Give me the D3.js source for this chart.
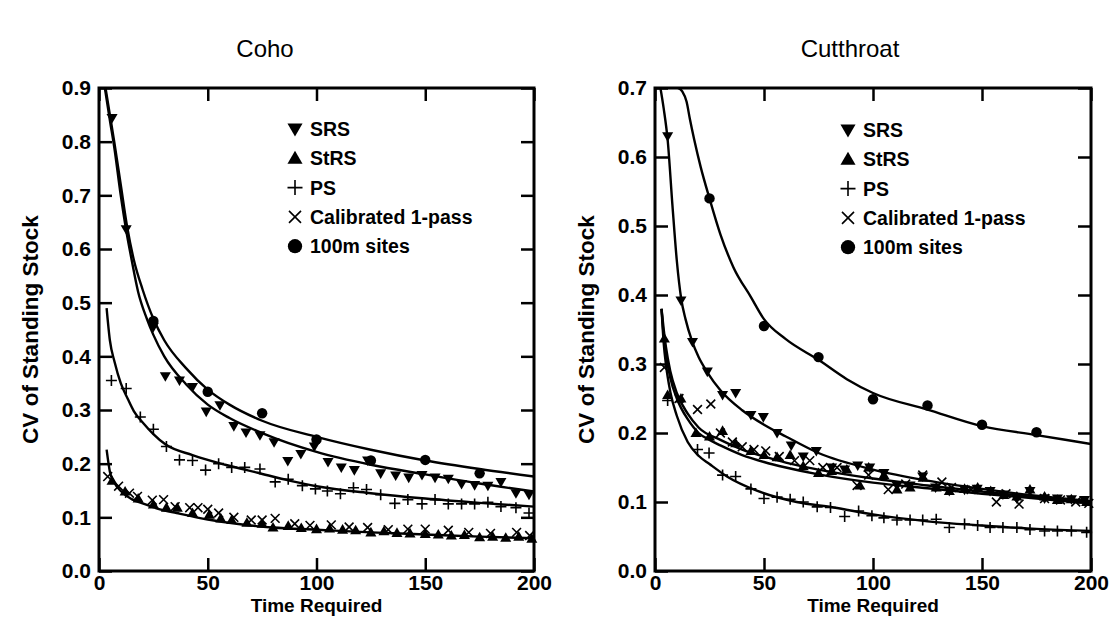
<!DOCTYPE html>
<html>
<head>
<meta charset="utf-8">
<script src="https://cdn.jsdelivr.net/npm/d3@7"></script>
<style>
  body { margin: 0; background: #fff; }
  svg { font-family: 'Liberation Sans', Arial, sans-serif; }
</style>
</head>
<body>
<div id="chart"></div>
<script>
/*
   Data (time required vs CV of standing stock)
 */

const xTicks = [0, 50, 100, 150, 200];
const cohoYTicks = [0, 0.1, 0.2, 0.3, 0.4, 0.5, 0.6, 0.7, 0.8, 0.9];
const cutYTicks = [0, 0.1, 0.2, 0.3, 0.4, 0.5, 0.6, 0.7];
const legendLabels = ['SRS', 'StRS', 'PS', 'Calibrated 1-pass', '100m sites'];

// Coho points
const cohoSrsX = [6, 12.5, 25, 30.5, 37, 43, 49.3, 55.6, 62, 67.6, 74, 80.5, 86.8, 92.8, 99, 105.3, 111.4, 117.4, 123.5, 129.5, 136.4, 142.4, 148.5, 154.5, 160.6, 166.7, 172.7, 178.8, 184.8, 191.7, 197.7];
const cohoSrsY = [0.844, 0.637, 0.455, 0.363, 0.355, 0.343, 0.297, 0.309, 0.27, 0.258, 0.253, 0.24, 0.205, 0.218, 0.232, 0.203, 0.193, 0.188, 0.206, 0.182, 0.178, 0.174, 0.179, 0.174, 0.172, 0.162, 0.16, 0.159, 0.166, 0.145, 0.142];
const cohoStrsX = [6, 12, 18, 25, 31, 36, 43, 50.7, 56, 61, 68, 75, 80, 87, 93, 100, 106, 112, 118, 125, 131, 137, 143, 150, 156, 162, 168, 175, 181, 187, 193, 199];
const cohoStrsY = [0.168, 0.148, 0.135, 0.124, 0.118, 0.118, 0.108, 0.105, 0.098, 0.095, 0.09, 0.088, 0.081, 0.084, 0.08, 0.078, 0.079, 0.077, 0.076, 0.072, 0.074, 0.071, 0.07, 0.069, 0.068, 0.066, 0.067, 0.063, 0.064, 0.062, 0.064, 0.06];
const cohoPsX = [5.7, 12.5, 19, 25, 31, 37, 43, 49, 55, 61, 67, 74, 81, 87, 93.5, 99.5, 105, 111, 117, 123, 129.5, 136, 142, 148.5, 154.5, 160.6, 166.7, 172.7, 178.8, 184.8, 191.7, 197.7];
const cohoPsY = [0.355, 0.34, 0.287, 0.264, 0.232, 0.207, 0.206, 0.188, 0.2, 0.193, 0.193, 0.19, 0.166, 0.171, 0.159, 0.153, 0.149, 0.144, 0.155, 0.152, 0.142, 0.126, 0.133, 0.125, 0.133, 0.125, 0.125, 0.125, 0.128, 0.12, 0.118, 0.108];
const cohoCalX = [4, 9, 14, 17.7, 24.5, 29.7, 35, 41.7, 45.5, 50, 55, 62, 70, 75, 81, 90, 97, 106.8, 115, 123.5, 133, 142, 150, 160.6, 170, 180, 192, 198];
const cohoCalY = [0.176, 0.158, 0.145, 0.139, 0.132, 0.133, 0.12, 0.118, 0.118, 0.115, 0.108, 0.1, 0.095, 0.095, 0.098, 0.088, 0.085, 0.086, 0.082, 0.081, 0.077, 0.078, 0.078, 0.076, 0.072, 0.07, 0.072, 0.066];
const cohoSiteX = [25, 50, 75, 100, 125, 150, 175];
const cohoSiteY = [0.466, 0.334, 0.294, 0.245, 0.206, 0.207, 0.182];

// Coho fitted curves
const cohoSiteFitX = [3, 5, 7, 10, 13, 16, 20, 25, 30, 40, 50, 60, 75, 100, 125, 150, 175, 200];
const cohoSiteFitY = [0.9, 0.85, 0.8, 0.72, 0.64, 0.58, 0.525, 0.47, 0.43, 0.378, 0.338, 0.31, 0.28, 0.25, 0.226, 0.206, 0.19, 0.176];
const cohoSrsFitX = [2.7, 5, 7, 10, 12.5, 15, 18, 22, 25, 30, 40, 50, 60, 75, 100, 125, 150, 175, 200];
const cohoSrsFitY = [0.9, 0.84, 0.79, 0.7, 0.635, 0.58, 0.52, 0.47, 0.44, 0.4, 0.348, 0.31, 0.285, 0.257, 0.222, 0.198, 0.18, 0.163, 0.148];
const cohoPsFitX = [3.5, 5, 7.2, 10, 13.2, 16, 20.7, 25, 30.5, 43, 58, 73, 88, 100, 125, 150, 175, 200];
const cohoPsFitY = [0.49, 0.43, 0.389, 0.35, 0.321, 0.298, 0.274, 0.255, 0.236, 0.216, 0.198, 0.183, 0.168, 0.158, 0.145, 0.135, 0.127, 0.12];
const cohoStrsFitX = [3.5, 5, 7, 10, 15, 20.7, 28, 35.7, 50, 65, 80, 100, 125, 150, 175, 200];
const cohoStrsFitY = [0.226, 0.185, 0.165, 0.149, 0.134, 0.125, 0.115, 0.108, 0.096, 0.087, 0.081, 0.077, 0.072, 0.068, 0.064, 0.061];

// Cutthroat points
const cutSrsX = [5.8, 11.9, 17.2, 24, 31, 37, 44, 49.7, 56, 62.5, 68, 74, 81, 87, 93, 98.5, 105, 111, 117, 122.8, 128.7, 135, 142, 147.8, 153.7, 159.6, 166, 172, 178.7, 184.6, 191, 197];
const cutSrsY = [0.63, 0.392, 0.332, 0.289, 0.255, 0.258, 0.226, 0.223, 0.2, 0.182, 0.166, 0.174, 0.15, 0.147, 0.153, 0.15, 0.142, 0.124, 0.124, 0.137, 0.121, 0.116, 0.118, 0.119, 0.116, 0.111, 0.105, 0.116, 0.105, 0.105, 0.104, 0.103];
const cutStrsX = [4.3, 5.8, 11.9, 18.8, 25, 31, 37, 44, 50, 56, 62, 68, 75, 81, 88, 94, 98, 105, 111, 117, 123, 129, 135, 142, 148, 154, 160, 166, 172, 178.7, 184.6, 191, 198];
const cutStrsY = [0.337, 0.255, 0.25, 0.2, 0.195, 0.203, 0.185, 0.174, 0.168, 0.165, 0.168, 0.152, 0.142, 0.145, 0.147, 0.124, 0.15, 0.139, 0.118, 0.121, 0.135, 0.121, 0.116, 0.119, 0.121, 0.116, 0.11, 0.108, 0.118, 0.108, 0.103, 0.104, 0.1];
const cutPsX = [5.8, 19.5, 24.8, 31, 37, 44, 50, 56, 62, 68, 74.4, 80.5, 87, 93.4, 99.5, 105, 111, 117, 122.8, 129, 135, 142, 148, 153.7, 159.6, 166, 172, 178.7, 184.6, 191, 198];
const cutPsY = [0.247, 0.176, 0.171, 0.139, 0.137, 0.119, 0.105, 0.107, 0.104, 0.1, 0.093, 0.092, 0.079, 0.087, 0.08, 0.077, 0.074, 0.074, 0.074, 0.075, 0.063, 0.068, 0.066, 0.063, 0.063, 0.063, 0.06, 0.058, 0.058, 0.058, 0.056];
const cutCalX = [4.3, 11, 19.5, 25.6, 30, 35.5, 40, 45.4, 50.8, 57, 64, 71, 77, 83.5, 92.7, 98, 107, 115, 122.8, 131.6, 136, 145, 156.6, 161, 167, 178.7, 186, 193, 199];
const cutCalY = [0.295, 0.25, 0.234, 0.242, 0.2, 0.187, 0.18, 0.176, 0.174, 0.166, 0.16, 0.16, 0.15, 0.15, 0.124, 0.139, 0.118, 0.126, 0.139, 0.129, 0.121, 0.118, 0.1, 0.112, 0.097, 0.105, 0.103, 0.1, 0.098];
const cutSiteX = [25, 50, 75, 100, 125, 150, 175];
const cutSiteY = [0.54, 0.355, 0.31, 0.249, 0.24, 0.212, 0.201];

// Cutthroat fitted curves
const cutSiteFitX = [10.5, 12.5, 14.5, 16, 18, 21, 25, 30, 36, 44, 50, 60, 75, 88, 100, 125, 150, 175, 200];
const cutSiteFitY = [0.7, 0.695, 0.68, 0.655, 0.625, 0.585, 0.54, 0.488, 0.44, 0.397, 0.365, 0.336, 0.306, 0.278, 0.258, 0.234, 0.21, 0.197, 0.184];
const cutSrsFitX = [2.5, 4, 5.8, 8, 10, 12, 14, 17, 20, 24, 30, 40, 50, 60, 75, 100, 125, 150, 175, 200];
const cutSrsFitY = [0.7, 0.67, 0.625, 0.53, 0.45, 0.395, 0.365, 0.333, 0.31, 0.288, 0.262, 0.233, 0.212, 0.195, 0.171, 0.147, 0.131, 0.119, 0.109, 0.101];
const cutStrsFitX = [3, 4, 5, 7, 10, 12, 15, 20, 25, 30, 40, 50, 60, 75, 100, 125, 150, 175, 200];
const cutStrsFitY = [0.38, 0.34, 0.315, 0.28, 0.25, 0.236, 0.22, 0.2, 0.19, 0.182, 0.168, 0.158, 0.15, 0.14, 0.128, 0.12, 0.112, 0.105, 0.098];
const cutCalFitX = [3, 4, 5, 7, 10, 15, 20, 30, 40, 50, 60, 75, 100, 125, 150, 175, 200];
const cutCalFitY = [0.38, 0.35, 0.325, 0.29, 0.258, 0.228, 0.208, 0.19, 0.176, 0.166, 0.157, 0.147, 0.134, 0.124, 0.115, 0.107, 0.1];
const cutPsFitX = [3, 4, 5, 7, 10, 15, 20, 25, 33, 47, 65, 82, 100, 125, 150, 175, 200];
const cutPsFitY = [0.38, 0.33, 0.3, 0.26, 0.225, 0.187, 0.167, 0.155, 0.137, 0.116, 0.1, 0.092, 0.082, 0.072, 0.066, 0.061, 0.058];

const zip = (xs, ys) => xs.map((x, i) => ({ x, y: ys[i] }));

/*
   Container Setup:
 */

const width = 1120;
const height = 625;
const svg = d3.select('#chart').append('svg').attr('width', width).attr('height', height);

const panels = [
  {
    id: 'coho',
    title: 'Coho',
    titleX: 265,
    box: { left: 99, right: 534, top: 88, bottom: 571 },
    yMax: 0.9,
    yTicks: cohoYTicks,
    yTitleX: 30,
    legendX: 295,
    legendY: 129,
    fits: [
      zip(cohoSiteFitX, cohoSiteFitY),
      zip(cohoSrsFitX, cohoSrsFitY),
      zip(cohoPsFitX, cohoPsFitY),
      zip(cohoStrsFitX, cohoStrsFitY),
    ],
    points: {
      srs: zip(cohoSrsX, cohoSrsY),
      strs: zip(cohoStrsX, cohoStrsY),
      ps: zip(cohoPsX, cohoPsY),
      cal: zip(cohoCalX, cohoCalY),
      site: zip(cohoSiteX, cohoSiteY),
    },
  },
  {
    id: 'cut',
    title: 'Cutthroat',
    titleX: 850,
    box: { left: 655, right: 1091, top: 88, bottom: 571 },
    yMax: 0.7,
    yTicks: cutYTicks,
    yTitleX: 586,
    legendX: 848,
    legendY: 130,
    fits: [
      zip(cutSiteFitX, cutSiteFitY),
      zip(cutSrsFitX, cutSrsFitY),
      zip(cutStrsFitX, cutStrsFitY),
      zip(cutCalFitX, cutCalFitY),
      zip(cutPsFitX, cutPsFitY),
    ],
    points: {
      srs: zip(cutSrsX, cutSrsY),
      strs: zip(cutStrsX, cutStrsY),
      ps: zip(cutPsX, cutPsY),
      cal: zip(cutCalX, cutCalY),
      site: zip(cutSiteX, cutSiteY),
    },
  },
];

// marker drawing, s = half size
const drawMarker = (g, type, cx, cy, s) => {
  if (type === 'srs' || type === 'strs') {
    g.append('path')
      .attr('d', d3.symbol(d3.symbolTriangle, s * s * 1.75)())
      .attr('transform', `translate(${cx},${cy + (type === 'srs' ? -s * 0.15 : s * 0.15)}) rotate(${type === 'srs' ? 180 : 0})`)
      .attr('fill', '#000');
  } else if (type === 'site') {
    g.append('circle').attr('cx', cx).attr('cy', cy).attr('r', s * 0.95).attr('fill', '#000');
  } else {
    const d = type === 'ps'
      ? `M${cx - s},${cy}H${cx + s}M${cx},${cy - s}V${cy + s}`
      : `M${cx - s * 0.8},${cy - s * 0.8}L${cx + s * 0.8},${cy + s * 0.8}M${cx - s * 0.8},${cy + s * 0.8}L${cx + s * 0.8},${cy - s * 0.8}`;
    g.append('path').attr('d', d).attr('stroke', '#000').attr('stroke-width', 1.6).attr('fill', 'none');
  }
};

const markerTypes = ['srs', 'strs', 'ps', 'cal', 'site'];

panels.forEach((p) => {
  const { box } = p;

  const x = d3.scaleLinear().domain([0, 200]).range([box.left, box.right]);
  const y = d3.scaleLinear().domain([0, p.yMax]).range([box.bottom, box.top]);

  const g = svg.append('g');

  // clip for curves
  g.append('clipPath')
    .attr('id', `clip-${p.id}`)
    .append('rect')
    .attr('x', box.left)
    .attr('y', box.top)
    .attr('width', box.right - box.left)
    .attr('height', box.bottom - box.top);

  // Title
  g.append('text')
    .text(p.title)
    .attr('x', p.titleX)
    .attr('y', 57)
    .attr('text-anchor', 'middle')
    .attr('font-size', '24px');

  // Axes (ticks point inward)
  const styleAxis = (sel) => {
    sel.select('.domain').remove();
    sel.selectAll('.tick line').attr('stroke', '#000').attr('stroke-width', 2.5);
    sel.selectAll('.tick text').attr('fill', '#000').attr('font-size', '21px').attr('font-weight', 'bold');
  };

  g.append('g')
    .attr('transform', `translate(0,${box.bottom})`)
    .call(d3.axisBottom(x).tickValues(xTicks).tickSize(-13).tickPadding(4))
    .attr('font-family', null)
    .call(styleAxis);

  g.append('g')
    .attr('transform', `translate(0,${box.top})`)
    .call(d3.axisTop(x).tickValues(xTicks).tickSize(-13).tickFormat(''))
    .call(styleAxis);

  g.append('g')
    .attr('transform', `translate(${box.left},0)`)
    .call(d3.axisLeft(y).tickValues(p.yTicks).tickSize(-13).tickPadding(8).tickFormat(d3.format('.1f')))
    .attr('font-family', null)
    .call(styleAxis);

  g.append('g')
    .attr('transform', `translate(${box.right},0)`)
    .call(d3.axisRight(y).tickValues(p.yTicks).tickSize(-13).tickFormat(''))
    .call(styleAxis);

  // Frame
  g.append('rect')
    .attr('x', box.left)
    .attr('y', box.top)
    .attr('width', box.right - box.left)
    .attr('height', box.bottom - box.top)
    .attr('fill', 'none')
    .attr('stroke', '#000')
    .attr('stroke-width', 3);

  // Axis titles
  g.append('text')
    .text('Time Required')
    .attr('x', (box.left + box.right) / 2)
    .attr('y', 612)
    .attr('text-anchor', 'middle')
    .attr('font-size', '19px')
    .attr('font-weight', 'bold');

  g.append('text')
    .text('CV of Standing Stock')
    .attr('transform', `translate(${p.yTitleX + 8},${(box.top + box.bottom) / 2}) rotate(-90)`)
    .attr('text-anchor', 'middle')
    .attr('font-size', '22.5px')
    .attr('font-weight', 'bold');

  /*
     Curves
   */
  const line = d3
    .line()
    .x((d) => x(d.x))
    .y((d) => y(d.y))
    .curve(d3.curveMonotoneX);

  g.append('g')
    .attr('clip-path', `url(#clip-${p.id})`)
    .selectAll('path')
    .data(p.fits)
    .enter()
    .append('path')
    .attr('d', line)
    .attr('fill', 'none')
    .attr('stroke', '#000')
    .attr('stroke-width', 2.4);

  /*
     Points
   */
  const pts = g.append('g');
  markerTypes.forEach((t) => {
    p.points[t].forEach((d) => drawMarker(pts, t, x(d.x), y(d.y), 5.5));
  });

  /*
     Legend
   */
  const legend = g.append('g');
  legendLabels.forEach((label, i) => {
    const ly = p.legendY + i * 29.3;
    drawMarker(legend, markerTypes[i], p.legendX, ly, 7.5);
    legend
      .append('text')
      .text(label)
      .attr('x', p.legendX + 15)
      .attr('y', ly + 7)
      .attr('font-size', '19.5px')
      .attr('font-weight', 'bold');
  });
});
</script>
</body>
</html>
